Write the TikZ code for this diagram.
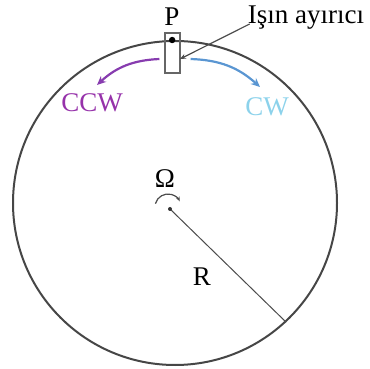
\documentclass[tikz,border=0pt]{standalone}
\usepackage{fontspec}
\setmainfont{Liberation Serif}
\usetikzlibrary{arrows.meta,positioning}

\definecolor{ccwpurple}{RGB}{135,60,175}
\definecolor{ccwtext}{RGB}{150,50,170}
\definecolor{cwblue}{RGB}{90,150,210}
\definecolor{cwtext}{RGB}{140,210,235}
\definecolor{ringgray}{RGB}{70,70,70}

\begin{document}
\begin{tikzpicture}[
  x=1pt, y=1pt,
  lbl/.style={font=\fontsize{27}{29}\selectfont, inner sep=0pt},
  ringline/.style={draw=ringgray, line width=2pt},
  splitbox/.style={rectangle, draw=gray!80!black, line width=1.1pt,
                   minimum width=15pt, minimum height=40pt, inner sep=0pt},
  beam/.style={-{Stealth[length=9pt, width=8pt]}, line width=2.2pt},
  pointer/.style={-{Stealth[length=6pt, width=5pt]}, draw=gray!60!black, line width=1.2pt}
]
\useasboundingbox (0,0) rectangle (369,369);

\node[circle, ringline, minimum size=324pt, inner sep=0pt] (ring) at (175,166) {};
\coordinate (O) at (170,160);
\coordinate (Ptop) at (ring.91);

% R yaricap
\draw[gray!60!black, line width=1pt] (O) -- (ring.-47);
\fill[black!80] (O) circle (2pt);
\node[lbl] (rlabel) at (202,92) {R};

% donme
\node[lbl] (omegalabel) at (165,190) {Ω};
\draw[-{Stealth[length=5pt]}, gray!60!black, line width=1.2pt]
  ([shift={(165:13)}]168,162) arc[start angle=165, end angle=25, radius=13];

% isin ayirici
\node[splitbox] (splitter) at (172.5,316) {};
\fill (Ptop) circle (3.2pt);
\node[lbl] (plabel) at (172,352) {P};
\node[lbl] (bslabel) at (306,351) {Işın ayırıcı};
\coordinate (bstip) at (180,310);
\draw[pointer] (bslabel.south west) ++(2,6) -- (bstip);

% CCW / CW
\node[lbl, text=ccwtext] (ccwlabel) at (92,266) {CCW};
\node[lbl, text=cwtext] (cwlabel) at (267,262) {CW};
\coordinate (ccwend) at (97,284);
\coordinate (cwend) at (260,282);
\draw[beam, ccwpurple] (splitter.west |- 0,310) ++(-5,0) to[bend right=20] (ccwend);
\draw[beam, cwblue] (splitter.east |- 0,310) ++(10,0) to[bend left=20] (cwend);
\end{tikzpicture}
\end{document}
